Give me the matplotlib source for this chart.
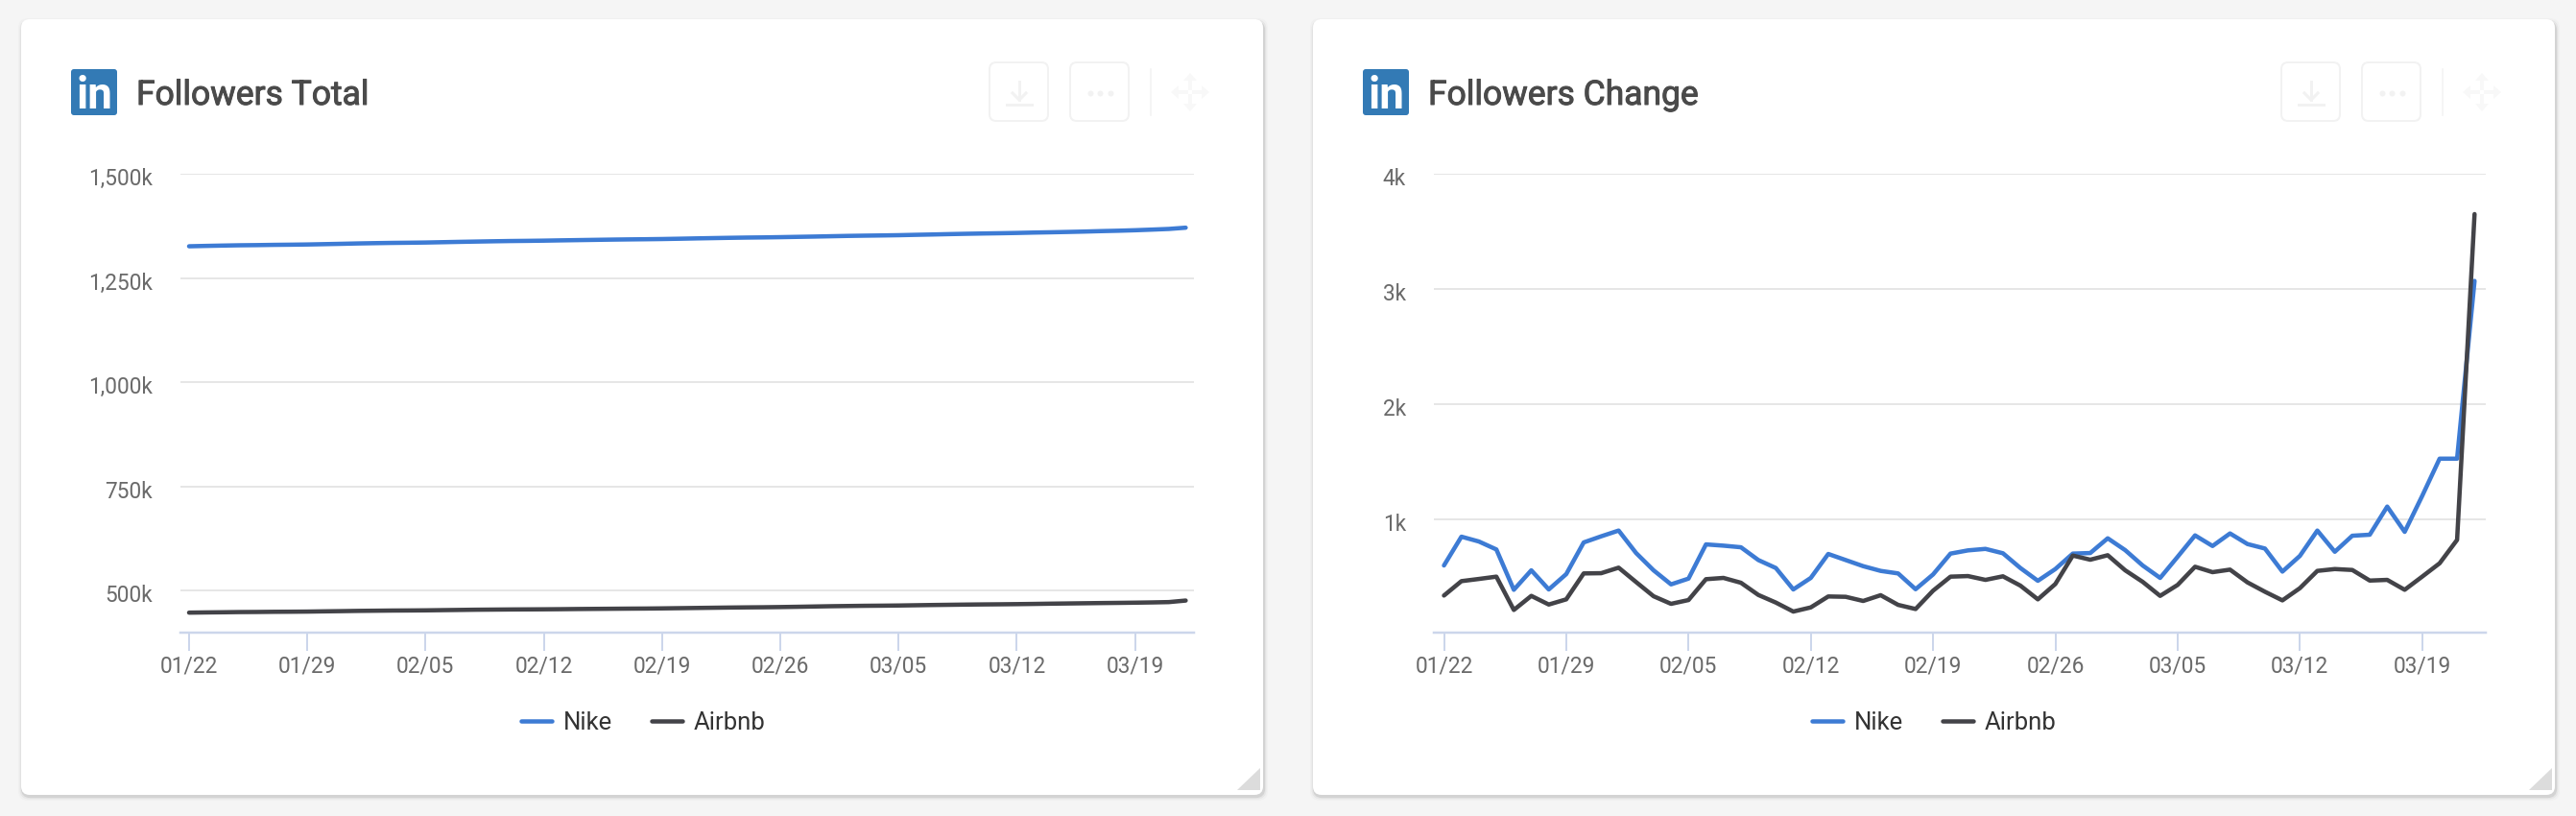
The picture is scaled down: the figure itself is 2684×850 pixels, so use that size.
"""Two LinkedIn follower cards: total followers and daily change, Nike vs Airbnb"""

import matplotlib
matplotlib.use("Agg")
import matplotlib.pyplot as plt
import matplotlib.patheffects as pe
from matplotlib.patches import FancyBboxPatch, Polygon
from matplotlib.lines import Line2D
from matplotlib.transforms import ScaledTranslation

plt.rcParams['font.family'] = ['Roboto', 'DejaVu Sans']

W = 2684
H = 850

days = list(range(60))
tick_days = [0, 7, 14, 21, 28, 35, 42, 49, 56]
tick_labels = ['01/22', '01/29', '02/05', '02/12', '02/19', '02/26', '03/05', '03/12', '03/19']

# thousands of followers
nike_total = [1326.0, 1326.9, 1327.7, 1328.4, 1328.8, 1329.4, 1329.8, 1330.3, 1331.1, 1331.9,
              1332.8, 1333.5, 1334.1, 1334.5, 1335.0, 1335.8, 1336.6, 1337.3, 1338.0, 1338.6,
              1339.0, 1339.5, 1340.2, 1340.8, 1341.4, 1342.0, 1342.5, 1342.9, 1343.4, 1344.1,
              1344.9, 1345.6, 1346.3, 1346.9, 1347.3, 1347.9, 1348.6, 1349.3, 1350.1, 1350.9,
              1351.5, 1352.0, 1352.6, 1353.5, 1354.3, 1355.2, 1356.0, 1356.7, 1357.3, 1358.0,
              1358.9, 1359.6, 1360.4, 1361.3, 1362.4, 1363.3, 1364.5, 1366.0, 1367.6, 1370.6]
airbnb_total = [447.0, 447.5, 447.9, 448.4, 448.6, 449.0, 449.2, 449.5, 450.1, 450.6,
                451.2, 451.6, 452.0, 452.2, 452.5, 453.0, 453.5, 454.0, 454.3, 454.6,
                454.8, 455.0, 455.3, 455.7, 456.0, 456.3, 456.6, 456.8, 457.2, 457.7,
                458.2, 458.7, 459.2, 459.6, 459.9, 460.4, 461.0, 461.7, 462.4, 462.9,
                463.4, 463.7, 464.1, 464.7, 465.3, 465.8, 466.3, 466.7, 467.0, 467.4,
                467.9, 468.5, 469.0, 469.5, 470.0, 470.4, 470.9, 471.5, 472.3, 476.0]

# followers per day
nike_change = [600, 850, 808, 739, 389, 558, 392, 525, 800, 853,
               903, 708, 558, 436, 486, 783, 772, 758, 647, 578,
               392, 492, 700, 647, 594, 553, 531, 394, 522, 703,
               731, 744, 706, 578, 467, 569, 703, 708, 836, 733,
               600, 492, 675, 861, 769, 878, 786, 747, 547, 683,
               903, 719, 858, 867, 1111, 892, 1203, 1527, 1527, 3070]
airbnb_change = [339, 464, 483, 503, 214, 336, 261, 306, 531, 533,
                 581, 456, 333, 267, 300, 481, 492, 450, 344, 278,
                 200, 236, 331, 328, 292, 342, 258, 222, 381, 503,
                 508, 475, 506, 425, 306, 439, 686, 650, 689, 558,
                 458, 336, 431, 589, 542, 564, 453, 372, 297, 403,
                 553, 569, 561, 469, 475, 389, 503, 619, 822, 3650]

total_ticks = [500, 750, 1000, 1250, 1500]
total_tick_labels = ['500k', '750k', '1,000k', '1,250k', '1,500k']
change_ticks = [1000, 2000, 3000, 4000]
change_tick_labels = ['1k', '2k', '3k', '4k']

NIKE_COLOR = '#3d7bd4'
AIRBNB_COLOR = '#434348'
GRID_COLOR = '#e6e6e6'
AXIS_COLOR = '#ccd6eb'
FAINT = '#f2f2f2'
FAINTER = '#f8f8f8'


def px(n):
    # pixels to points at dpi 100
    return n * 0.72


def draw_card(bg, x0, title):
    # soft shadow first, then the white card
    for grow, alpha in [(4, 0.02), (2.5, 0.04), (1.2, 0.08)]:
        bg.add_patch(FancyBboxPatch((x0 + 1 - grow, 20 + 2 - grow + 1), 1294 + 2 * grow, 808 + 2 * grow - 1,
                                    boxstyle="round,pad=0,rounding_size=10",
                                    fc='black', ec='none', alpha=alpha))
    bg.add_patch(FancyBboxPatch((x0, 20), 1294, 808, boxstyle="round,pad=0,rounding_size=9",
                                fc='white', ec='none'))

    # linkedin logo
    bg.add_patch(FancyBboxPatch((x0 + 52, 72), 48, 48, boxstyle="round,pad=0,rounding_size=3",
                                fc='#337ab5', ec='none'))
    bg.text(x0 + 76, 113, 'in', color='white', fontsize=33, fontweight='bold', ha='center', va='baseline')
    t = bg.text(x0 + 120, 96, title, color='#4a4a4a', fontsize=25.5, ha='left', va='center_baseline')
    # roboto medium look
    t.set_path_effects([pe.withStroke(linewidth=0.7, foreground='#4a4a4a')])

    # toolbar buttons, barely visible
    for bx in [x0 + 1009, x0 + 1093]:
        bg.add_patch(FancyBboxPatch((bx, 65), 61, 61, boxstyle="round,pad=0,rounding_size=7",
                                    fc='white', ec=FAINT, lw=px(2)))
    ax0 = x0 + 1040
    bg.add_line(Line2D([ax0, ax0], [85, 104], color=FAINT, lw=px(3)))
    bg.add_line(Line2D([ax0 - 7, ax0, ax0 + 7], [97, 104, 97], color=FAINT, lw=px(3)))
    bg.add_line(Line2D([ax0 - 13, ax0 + 13], [109, 109], color=FAINT, lw=px(3)))
    for dx in [-10.5, 0, 10.5]:
        bg.plot([x0 + 1124 + dx], [97], 'o', color=FAINT, ms=px(6), mec='none')
    bg.add_line(Line2D([x0 + 1177, x0 + 1177], [72, 120], color=FAINT, lw=px(1.5)))

    # move handle
    cx = x0 + 1218
    for dx, dy in [(1, 0), (-1, 0), (0, 1), (0, -1)]:
        tip = (cx + 20 * dx, 96 + 20 * dy)
        side = 7
        bg.add_patch(Polygon([tip,
                              (tip[0] - 8 * dx + side * dy, tip[1] - 8 * dy + side * dx),
                              (tip[0] - 8 * dx - side * dy, tip[1] - 8 * dy - side * dx)],
                             fc=FAINTER, ec='none'))
        bg.add_line(Line2D([cx + 4 * dx, cx + 13 * dx], [96 + 4 * dy, 96 + 13 * dy], color=FAINTER, lw=px(4)))

    # resize corner
    bg.add_patch(Polygon([(x0 + 1291, 800), (x0 + 1291, 823), (x0 + 1267, 823)], fc='#dcdcdc', ec='none'))


def draw_chart(fig, left, right, first_x, step, nike, airbnb, ymin, ymax, yticks, ylabels, leg_x):
    ax = fig.add_axes([left / W, 1 - 659 / H, (right - left) / W, (659 - 181) / H])
    ax.patch.set_alpha(0)
    line_nike, = ax.plot(days, nike, color=NIKE_COLOR, lw=px(4.5), label='Nike',
                         solid_capstyle='round', solid_joinstyle='round', clip_on=False)
    line_airbnb, = ax.plot(days, airbnb, color=AIRBNB_COLOR, lw=px(4.5), label='Airbnb',
                           solid_capstyle='round', solid_joinstyle='round', clip_on=False)

    ax.set_xlim((left - first_x) / step, (right - first_x) / step)
    ax.set_ylim(ymin, ymax)
    ax.set_xticks(tick_days)
    ax.set_xticklabels(tick_labels)
    ax.set_yticks(yticks)
    ax.set_yticklabels(ylabels)

    for side in ['top', 'left', 'right']:
        ax.spines[side].set_visible(False)
    ax.spines['bottom'].set_color(AXIS_COLOR)
    ax.spines['bottom'].set_linewidth(px(2.5))
    ax.grid(axis='y', color=GRID_COLOR, lw=px(2))
    ax.set_axisbelow(True)
    ax.tick_params(axis='y', length=0, pad=px(29), labelsize=16.3, labelcolor='#6a6a6a')
    ax.tick_params(axis='x', length=px(19), width=px(2), color=AXIS_COLOR, pad=px(4),
                   labelsize=16.3, labelcolor='#6a6a6a')

    # labels sit a bit below their gridlines
    shift = ScaledTranslation(0, -3 / 100, fig.dpi_scale_trans)
    for label in ax.get_yticklabels():
        label.set_transform(label.get_transform() + shift)

    ax.legend(handles=[line_nike, line_airbnb], ncol=2, frameon=False, fontsize=18.5,
              labelcolor='#333333', handlelength=1.25, handletextpad=0.45, columnspacing=1.6,
              loc='center', bbox_to_anchor=(leg_x / W, 1 - 752.5 / H), bbox_transform=fig.transFigure,
              borderpad=0, borderaxespad=0)
    return ax


fig = plt.figure(figsize=(W / 100, H / 100), dpi=100, facecolor='#f5f5f5')

bg = fig.add_axes([0, 0, 1, 1])
bg.set_xlim(0, W)
bg.set_ylim(H, 0)
bg.axis('off')

draw_card(bg, 22, 'Followers Total')
draw_card(bg, 1368, 'Followers Change')

draw_chart(fig, 188, 1244, 197, 17.6, nike_total, airbnb_total, 399, 1500,
           total_ticks, total_tick_labels, 670)
draw_chart(fig, 1494, 2590, 1504.5, 18.2, nike_change, airbnb_change, 17, 4000,
           change_ticks, change_tick_labels, 2015)

fig.savefig('out.png', dpi=100, facecolor=fig.get_facecolor())
